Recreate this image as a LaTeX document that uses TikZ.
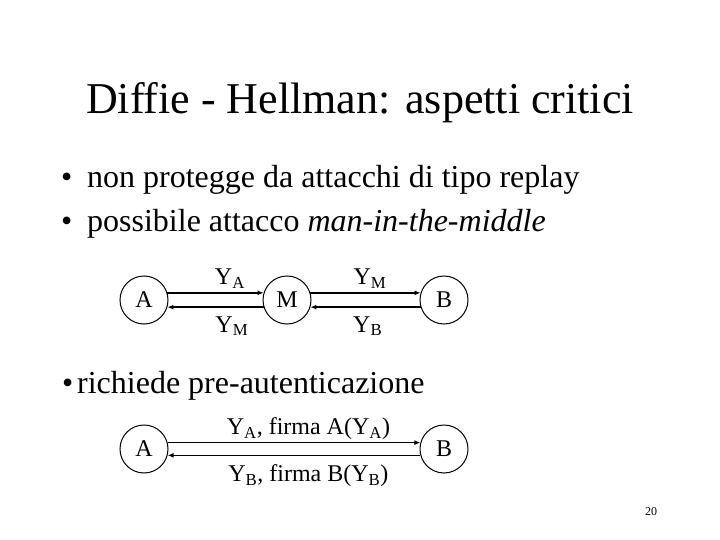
\documentclass[tikz,border=0pt]{standalone}
\usepackage{fontspec}
\setmainfont{Liberation Serif}
\usetikzlibrary{arrows.meta}

\begin{document}
\begin{tikzpicture}[
        x=1pt, y=-1pt,
        % --- stili ---
        slide title/.style={
            font=\fontsize{44}{48}\selectfont,
            anchor=base,
            inner sep=0pt
        },
        bullet line/.style={
            font=\fontsize{32}{36}\selectfont,
            anchor=base west,
            inner sep=0pt
        },
        party/.style={
            draw,
            circle,
            line width=1pt,
            minimum size=48pt,
            inner sep=0pt,
            font=\fontsize{24}{28}\selectfont
        },
        msg/.style={
            line width=1.5pt,
            -{Latex[length=6pt,width=5pt]}
        },
        msg label/.style={
            font=\fontsize{24}{28}\selectfont,
            anchor=base,
            inner sep=0pt
        },
        page number/.style={
            font=\fontsize{12}{14}\selectfont,
            anchor=base,
            inner sep=0pt
        }
    ]

    \useasboundingbox (0,0) rectangle (720,540);

    % --- TITOLO E PUNTI ---
    \node[slide title] (title) at (360,114) {Diffie - Hellman: aspetti critici};
    \node[bullet line] (item1) at (61,188) {\makebox[26pt][l]{\textbullet}non protegge da attacchi di tipo replay};
    \node[bullet line] (item2) at (61,232) {\makebox[26pt][l]{\textbullet}possibile attacco \textit{man-in-the-middle}};
    \node[bullet line] (item3) at (62,393) {\makebox[15pt][l]{\textbullet}richiede pre-autenticazione};

    % --- MAN-IN-THE-MIDDLE ---
    \def\yMitm{300}
    \node[party] (A1) at (144,\yMitm) {A};
    \node[party] (M)  at (287,\yMitm) {M};
    \node[party] (B1) at (444,\yMitm) {B};

    \draw[msg] (A1.17) -- (M.163)
        node[msg label, pos=0.65, yshift=8pt] {Y\textsubscript{A}};
    \draw[msg] (M.-163) -- (A1.-17)
        node[msg label, pos=0.33, yshift=-25pt] {Y\textsubscript{M}};
    \draw[msg] (M.17) -- (B1.163)
        node[msg label, pos=0.54, yshift=8pt] {Y\textsubscript{M}};
    \draw[msg] (B1.-163) -- (M.-17)
        node[msg label, pos=0.48, yshift=-25pt] {Y\textsubscript{B}};

    % --- PRE-AUTENTICAZIONE ---
    \def\yAuth{449}
    \node[party] (A2) at (144,\yAuth) {A};
    \node[party] (B2) at (444,\yAuth) {B};

    \draw[msg] (A2.15) -- (B2.165)
        node[msg label, pos=0.557, yshift=8pt] {Y\textsubscript{A}, firma A(Y\textsubscript{A})};
    \draw[msg] (B2.-165) -- (A2.-15)
        node[msg label, pos=0.443, yshift=-26pt] {Y\textsubscript{B}, firma B(Y\textsubscript{B})};

    % --- NUMERO PAGINA ---
    \node[page number] (page) at (651,515) {20};

\end{tikzpicture}
\end{document}
